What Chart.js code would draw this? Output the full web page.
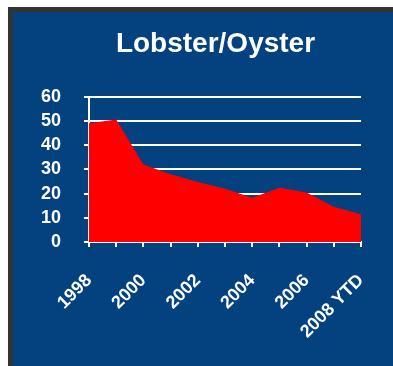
<!DOCTYPE html>
<html>
<head>
<meta charset="utf-8">
<script src="https://cdn.jsdelivr.net/npm/chart.js@4.4.1/dist/chart.umd.min.js"></script>
<style>
    html,body{
        margin:0;
        padding:0;
        background:#ffffff;
        width:393px;
        height:366px;
        overflow:hidden;
    }
    #panel{
        position:absolute;
        left:8px;
        top:7px;
        width:400px;
        height:380px;
        background:#03417f;
        border-left:5px solid #333333;
        border-top:5px solid #333333;
    }
    #chartBox{
        position:absolute;
        left:0;
        top:0;
        width:380px;
        height:354px;
    }
</style>
</head>
<body>
<div id="panel">
    <div id="chartBox"><canvas id="lobsterChart"></canvas></div>
</div>
<script>

const years = ["1998","1999","2000","2001","2002","2003","2004","2005","2006","2007","2008 YTD"];

const landings = [49,50.5,32,28,24.8,22,18.3,22.4,20.4,14.5,11.5];

const yTicks = [0,10,20,30,40,50,60];

const white = "#ffffff";

// the original title sits a bit right of the canvas centre
const shiftTitle = {

    id:"shiftTitle",

    afterLayout(chart){

        const block = chart.titleBlock;

        if(block){

            block.left += 16;

            block.right += 16;

        }

    }

};

const ctx =
    document
    .getElementById("lobsterChart")
    .getContext("2d");

new Chart(ctx,{

    type:"line",

    data:{

        labels:years,

        datasets:[{

            data:landings,

            fill:"origin",

            backgroundColor:"#ff0000",

            borderColor:"#ff0000",

            borderWidth:0,

            pointRadius:0,

            tension:0

        }]

    },

    options:{

        responsive:true,

        maintainAspectRatio:false,

        animation:false,

        layout:{

            padding:{left:25,right:32,top:0,bottom:0}

        },

        plugins:{

            legend:{display:false},

            tooltip:{enabled:false},

            title:{

                display:true,

                text:"Lobster/Oyster",

                color:white,

                font:{family:"Liberation Sans",size:28,weight:"bold"},

                padding:{top:15,bottom:36}

            }

        },

        scales:{

            x:{

                offset:false,

                grid:{

                    display:true,

                    drawOnChartArea:false,

                    color:white,

                    lineWidth:2,

                    tickLength:5

                },

                border:{color:white,width:2},

                ticks:{

                    color:white,

                    autoSkip:false,

                    maxRotation:45,

                    minRotation:45,

                    padding:23,

                    font:{family:"Liberation Sans",size:18,weight:"bold"},

                    callback:function(value,index){

                        return index % 2 === 0 ? years[index] : "";

                    }

                },

                afterFit:function(scale){

                    scale.height = 124;

                    scale.paddingLeft = 0;

                    scale.paddingRight = 0;

                }

            },

            y:{

                min:0,

                max:60,

                afterBuildTicks:function(scale){

                    scale.ticks = yTicks.map(v=>({value:v}));

                },

                grid:{

                    color:white,

                    lineWidth:2,

                    tickLength:5

                },

                border:{color:white,width:2},

                ticks:{

                    color:white,

                    autoSkip:false,

                    padding:23,

                    font:{family:"Liberation Sans",size:18,weight:"bold"}

                },

                afterFit:function(scale){

                    scale.width = 51;

                }

            }

        }

    },

    plugins:[shiftTitle]

});

</script>
</body>
</html>
